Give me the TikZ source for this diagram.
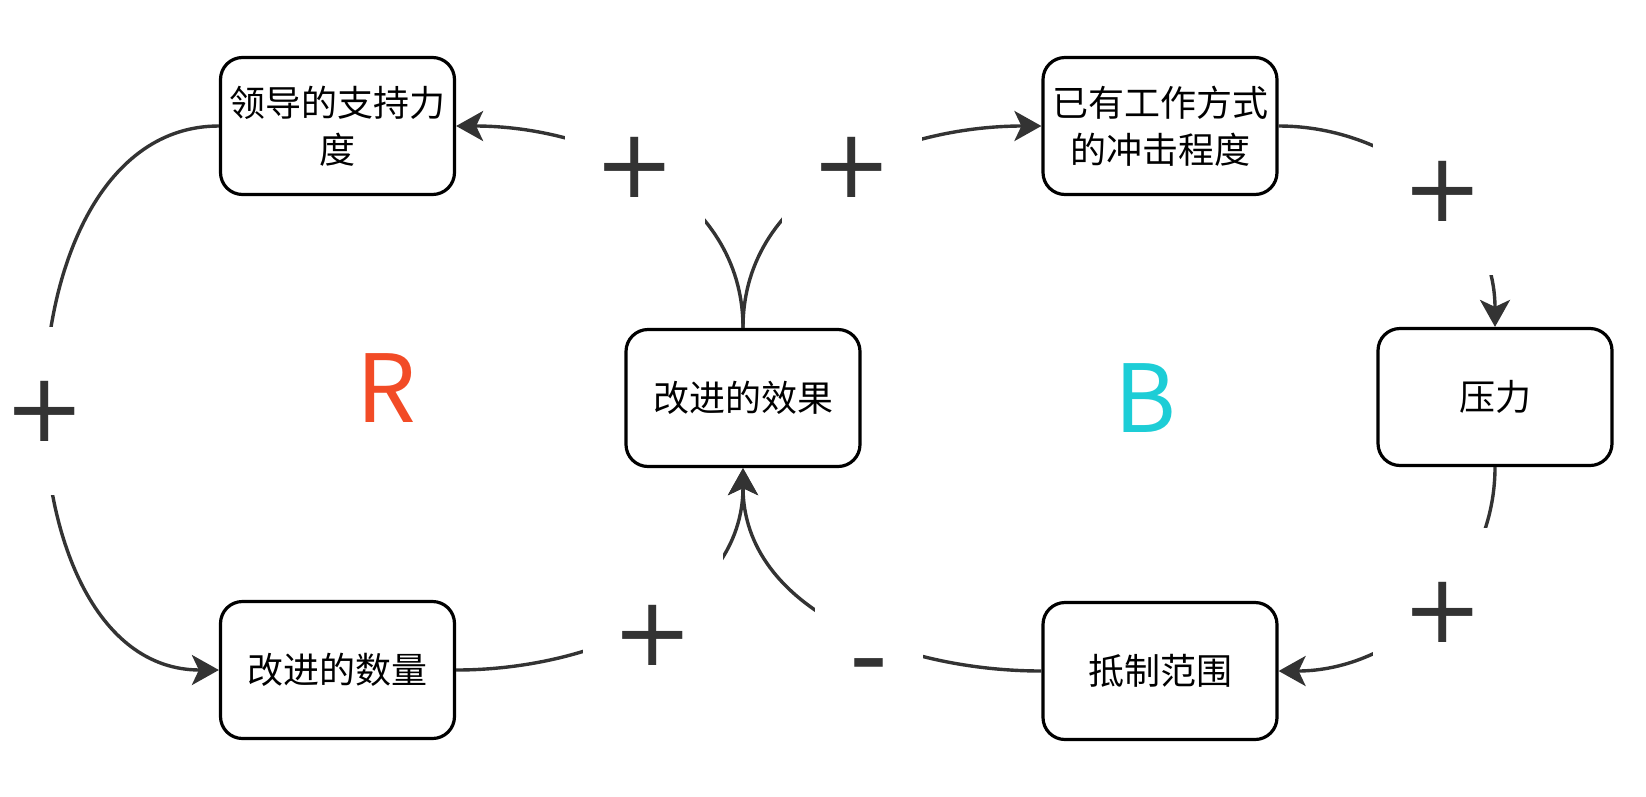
\documentclass[tikz,border=0pt]{standalone}
\usepackage{fontspec}
\newfontfamily\cjkfont{Noto Sans CJK SC}
\newfontfamily\signfont{DejaVu Sans}
\usetikzlibrary{arrows.meta}
\definecolor{cldink}{HTML}{333333}
\definecolor{cldred}{HTML}{F24B26}
\definecolor{cldcyan}{HTML}{1DCDD6}

\begin{document}
\begin{tikzpicture}[
  x=1pt, y=1pt,
  factor/.style={draw=black, line width=3.2pt, rounded corners=22pt, fill=white,
    minimum width=234pt, minimum height=137pt, align=center, inner sep=0pt,
    font=\cjkfont\fontsize{36}{47}\selectfont},
  link/.style={cldink, line width=3.4pt,
    -{Stealth[length=27pt, width=30pt, inset=7pt]}},
  sign/.style={fill=white, text=cldink, minimum width=140pt, minimum height=168pt,
    inner sep=0pt, font=\signfont\fontsize{96}{96}\selectfont},
  loopname/.style={font=\cjkfont\fontsize{94}{94}\selectfont},
  ]
  \path[use as bounding box] (0,0) rectangle (1646,-796);

  % The variables.
  \node[factor] (lead) at (337.5,-126) {领导的支持力\\度};
  \node[factor] (impact) at (1160,-126) {已有工作方式\\的冲击程度};
  \node[factor] (effect) at (743,-398) {改进的效果};
  \node[factor] (pressure) at (1495,-397) {压力};
  \node[factor] (count) at (337.5,-670) {改进的数量};
  \node[factor] (resist) at (1160,-671) {抵制范围};

  % Loop names.
  \node[loopname, text=cldred] (reinforce) at (386,-388) {R};
  \node[loopname, text=cldcyan] (balance) at (1145,-398) {B};

  % Reinforcing loop.
  \draw[link] (lead.west) to[out=180, in=180, looseness=1.08] (count.west);
  \draw[link] (effect.north) to[out=90, in=0] (lead.east);
  \draw[link] (count.east) to[out=0, in=-90] (effect.south);

  % Balancing loop.
  \draw[link] (effect.north) to[out=90, in=180] (impact.west);
  \draw[link] (impact.east) to[out=0, in=90] (pressure.north);
  \draw[link] (pressure.south) to[out=-90, in=0] (resist.east);
  \draw[link] (resist.west) to[out=180, in=-90] (effect.south);

  % Polarities, cutting the links.
  \node[sign] (plusCount) at (45,-411) {+};
  \node[sign] (plusLead) at (635,-167) {+};
  \node[sign] (plusImpact) at (852,-167) {+};
  \node[sign] (plusPressure) at (1443,-191) {+};
  \node[sign] (plusResist) at (1443,-612) {+};
  \node[sign] (plusEffect) at (653,-635) {+};
  \node[sign, minimum width=108pt, font=\signfont\fontsize{108}{108}\selectfont]
    (minusEffect) at (869,-676) {-};
\end{tikzpicture}
\end{document}
